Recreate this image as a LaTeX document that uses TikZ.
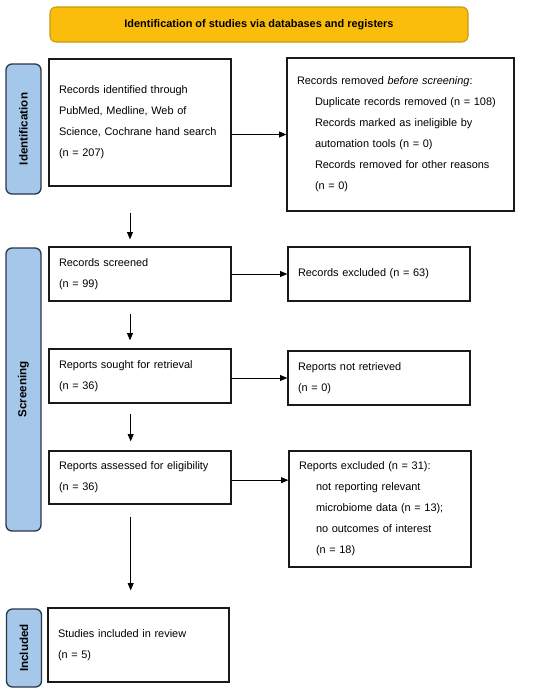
\documentclass[tikz,border=0pt]{standalone}
\usepackage{fontspec}
\setmainfont{Liberation Sans}
\usetikzlibrary{arrows.meta}
\definecolor{headfill}{HTML}{FBBD0C}
\definecolor{headdraw}{HTML}{C99A10}
\definecolor{sidefill}{HTML}{A5C7EA}
\definecolor{sidedraw}{HTML}{2B3646}
\tikzstyle{txt} = [font=\fontsize{8.2}{15.75}\selectfont]
\tikzstyle{box} = [draw=black!90, line width=1pt, fill=white, align=left, inner xsep=7.5pt, text width=121.5pt, txt]
\tikzstyle{side} = [draw=sidedraw, fill=sidefill, line width=1pt, rounded corners=4.5pt, rotate=90, minimum height=26.25pt, font=\fontsize{8.7}{10}\selectfont\bfseries]
\tikzstyle{head} = [draw=headdraw, fill=headfill, line width=0.8pt, rounded corners=4.5pt, minimum width=313.5pt, minimum height=26.25pt, font=\fontsize{8.2}{10}\selectfont\bfseries]
\tikzstyle{arrow} = [line width=0.6pt, -{Triangle[length=5.5pt,width=4.5pt]}]

\begin{document}
\begin{tikzpicture}[x=0.75pt, y=-0.75pt]
\useasboundingbox (0,0) rectangle (550,693);

%header
\node[head] (head) at (259,24.5) {Identification of studies via databases and registers};

%side labels
\node[side, minimum width=97.5pt] (idside) at (23.5,129) {Identification};
\node[side, minimum width=212.25pt] (scrside) at (23.5,389.5) {Screening};
\node[side, minimum width=58.5pt] (incside) at (24,648) {Included};

%Identification
\node[box, minimum height=95.25pt] (ident) at (140,122.5) {Records identified through\\PubMed, Medline, Web of\\Science, Cochrane hand search\\(n = 207)};
\node[box, text width=155.25pt, minimum height=114.75pt] (removed) at (400.5,134.5) {Records removed \textit{before screening}:\\
\hspace*{13.5pt}Duplicate records removed (n = 108)\\
\hspace*{13.5pt}Records marked as ineligible by\\
\hspace*{13.5pt}automation tools (n = 0)\\
\hspace*{13.5pt}Records removed for other reasons\\
\hspace*{13.5pt}(n = 0)};

%Screening
\node[box, minimum height=40.5pt] (screened) at (140,274) {Records screened\\(n = 99)};
\node[box, minimum height=40.5pt] (excluded) at (379,274) {Records excluded (n = 63)};
\node[box, minimum height=40.5pt] (sought) at (140,376) {Reports sought for retrieval\\(n = 36)};
\node[box, minimum height=40.5pt] (notretr) at (379,378) {Reports not retrieved\\(n = 0)};
\node[box, minimum height=39.75pt] (assessed) at (140,477.5) {Reports assessed for eligibility\\(n = 36)};
\node[box, minimum height=87pt] (repexcl) at (380,509) {Reports excluded (n = 31):\\
\hspace*{12.75pt}not reporting relevant\\
\hspace*{12.75pt}microbiome data (n = 13);\\
\hspace*{12.75pt}no outcomes of interest\\
\hspace*{12.75pt}(n = 18)};

%Included
\node[box, text width=120.75pt, minimum height=55.5pt] (included) at (138.5,645) {Studies included in review\\(n = 5)};

%arrows
\draw[arrow] (ident.east |- removed.west) -- (removed.west);
\draw[arrow] (screened.east) -- (excluded.west);
\draw[arrow] (sought.east |- notretr.west) -- (notretr.west);
\draw[arrow] ([yshift=-2pt]assessed.east) -- ([yshift=-2pt]assessed.east -| repexcl.west);
\draw[arrow, shorten <=19.5pt, shorten >=5.25pt] ([xshift=-7.5pt]ident.south) -- ([xshift=-7.5pt]screened.north);
\draw[arrow, shorten <=9pt, shorten >=6pt] ([xshift=-7.5pt]screened.south) -- ([xshift=-7.5pt]sought.north);
\draw[arrow, shorten <=7.5pt, shorten >=6.75pt] ([xshift=-7pt]sought.south) -- ([xshift=-7pt]assessed.north);
\draw[arrow, shorten <=9pt, shorten >=12.75pt] ([xshift=-7pt]assessed.south) -- ([xshift=-7pt]assessed.south |- included.north);

\end{tikzpicture}
\end{document}
